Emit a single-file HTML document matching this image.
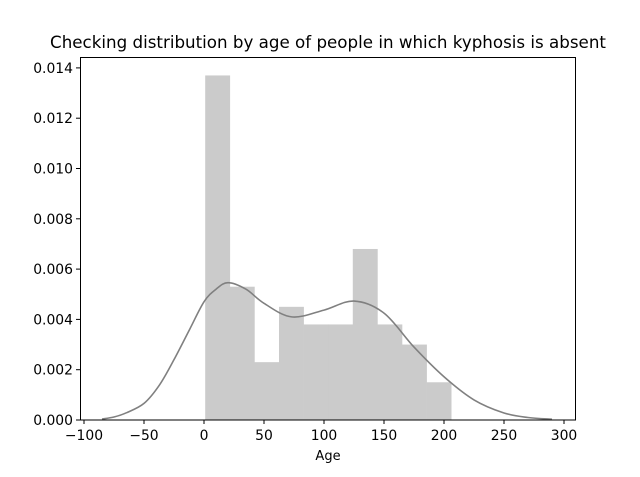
<!DOCTYPE html>
<html><head><meta charset="utf-8"><style>
body{margin:0;background:#fff;font-family:"Liberation Sans","DejaVu Sans",sans-serif}
svg text{font-family:"DejaVu Sans","Liberation Sans",sans-serif;font-size:13.9px;fill:#000}
</style></head><body>
<svg id="c" width="640" height="472">
<text x="328" y="48" text-anchor="middle" style="font-size:16.7px">Checking distribution by age of people in which kyphosis is absent</text>
<g id="plot"></g>
<rect x="80.5" y="57.5" width="495" height="362.5" fill="none" stroke="#000" stroke-width="1"/>
<text x="328" y="460" text-anchor="middle" style="font-size:13px">Age</text>
</svg>
<script>
const binEdges=[1,21.5,42,62.5,83,103.5,124,144.5,165,185.5,206];
const binHeights=[0.0137,0.0053,0.0023,0.0045,0.0038,0.0038,0.0068,0.0038,0.0030,0.0015];
const kdeAges=[-85,-75,-65,-50,-37,-25,-12,0,10,20,35,50,73,100,125,150,175,200,225,250,270,290];
const kdeDens=[0.00004,0.00012,0.00028,0.00066,0.0014,0.0024,0.0036,0.0047,0.0052,0.00546,0.0052,0.00464,0.0041,0.00437,0.00473,0.00425,0.0029,0.00172,0.0008,0.00028,0.0001,0.00003];
const xTicks=[-100,-50,0,50,100,150,200,250,300];
const yTicks=[0,0.002,0.004,0.006,0.008,0.010,0.012,0.014];
const X=v=>204+v*1.2, Y=v=>420-v*25150;
const NS="http://www.w3.org/2000/svg",g=document.getElementById('plot');
function mk(t,a){const e=document.createElementNS(NS,t);for(const k in a)e.setAttribute(k,a[k]);g.appendChild(e);return e;}
binHeights.forEach((h,i)=>{const r=mk('rect',{x:X(binEdges[i]),y:Y(h),width:X(binEdges[i+1])-X(binEdges[i])+0.3,height:420-Y(h),fill:'#cbcbcb'});

});
const P=kdeAges.map((a,i)=>[X(a),Y(kdeDens[i])]);
let d='M'+P[0][0]+','+P[0][1];
for(let i=0;i<P.length-1;i++){const p0=P[Math.max(0,i-1)],p1=P[i],p2=P[i+1],p3=P[Math.min(P.length-1,i+2)];
d+=' C'+(p1[0]+(p2[0]-p0[0])/6)+','+(p1[1]+(p2[1]-p0[1])/6)+' '+(p2[0]-(p3[0]-p1[0])/6)+','+(p2[1]-(p3[1]-p1[1])/6)+' '+p2[0]+','+p2[1];}
const line=mk('path',{d:d,fill:'none',stroke:'#808080','stroke-width':1.6});


xTicks.forEach(v=>{const x=X(v);mk('line',{x1:x,x2:x,y1:420,y2:424,stroke:'#000'});
const t=mk('text',{x:x,y:440,'text-anchor':'middle'});t.textContent=(v<0?'\u2212'+(-v):v);

});
yTicks.forEach(v=>{const y=Y(v);mk('line',{x1:76,x2:80,y1:y,y2:y,stroke:'#000'});
const t=mk('text',{x:73,y:y+5,'text-anchor':'end'});t.textContent=v.toFixed(3);

});
</script>
</body></html>
